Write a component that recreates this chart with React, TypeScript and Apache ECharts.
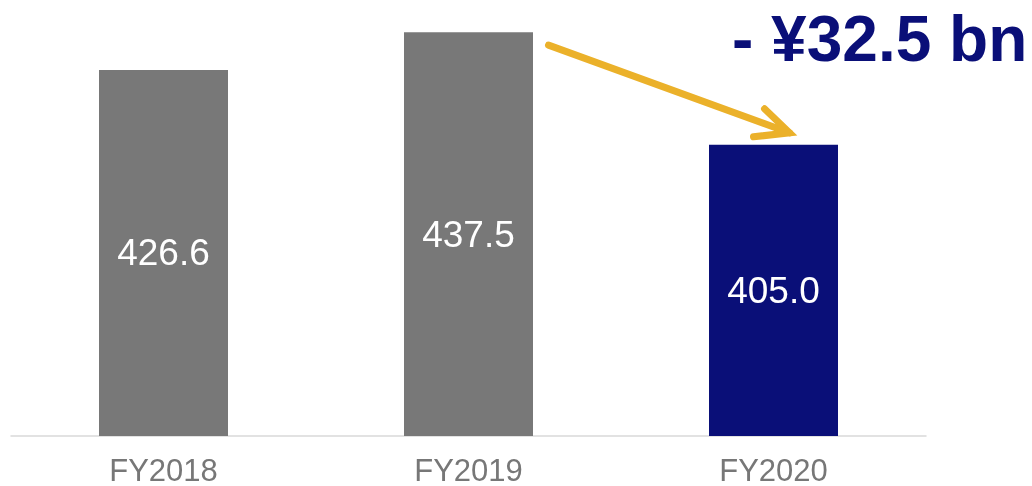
import React, { useEffect, useRef } from "react";
import * as echarts from "echarts";

const categories = ["FY2018", "FY2019", "FY2020"];
const values = [426.6, 437.5, 405.0];
const barColors = ["#787878", "#787878", "#0A0F78"];
const changeLabel = "- ¥32.5 bn";

const FONT = "'Liberation Sans', Arial, sans-serif";

export default function App() {
  const ref = useRef<HTMLDivElement>(null);
  useEffect(() => {
    if (!ref.current) return;
    const chart = echarts.init(ref.current, undefined, { renderer: "svg" });
    chart.setOption({
      animation: false,
      grid: { left: 11, right: 106, top: 20, bottom: 50 },
      xAxis: {
        type: "category",
        data: categories,
        axisLine: { show: true, lineStyle: { color: "#d9d9d9", width: 1.5 } },
        axisTick: { show: false },
        axisLabel: {
          color: "#777777",
          fontSize: 31,
          lineHeight: 30,
          fontFamily: FONT,
          margin: 19,
        },
      },
      yAxis: {
        type: "value",
        min: 321,
        max: 441,
        show: false,
        splitLine: { show: false },
      },
      series: [
        {
          type: "bar",
          barWidth: 129,
          data: values.map((v, i) => ({ value: v, itemStyle: { color: barColors[i] } })),
          label: {
            show: true,
            position: "inside",
            color: "#ffffff",
            fontSize: 37,
            fontFamily: FONT,
            formatter: (p: any) => Number(p.value).toFixed(1),
          },
        },
      ],
    });

    // Arrow from FY2019 bar top towards FY2020 bar top
    const p19 = chart.convertToPixel({ gridIndex: 0 }, [1, values[1]]) as number[];
    const p20 = chart.convertToPixel({ gridIndex: 0 }, [2, values[2]]) as number[];
    const start = [p19[0] + 80, p19[1] + 13];
    const tip = [p20[0] + 16, p20[1] - 12];
    const gold = "#EBB12A";
    chart.setOption({
      graphic: [
        {
          type: "polyline",
          shape: { points: [start, tip] },
          style: { stroke: gold, lineWidth: 7, lineCap: "round", fill: null },
        },
        {
          type: "polyline",
          shape: {
            points: [
              [tip[0] - 25, tip[1] - 24],
              tip,
              [tip[0] - 36, tip[1] + 4],
            ],
          },
          style: { stroke: gold, lineWidth: 7, lineCap: "round", lineJoin: "miter", fill: null },
        },
        {
          type: "text",
          x: 732,
          y: 39,
          style: {
            text: changeLabel,
            fill: "#0A0F78",
            font: `bold 64px ${FONT}`,
            textAlign: "left",
            textVerticalAlign: "middle",
          },
        },
      ],
    });
    return () => chart.dispose();
  }, []);
  return (
    <div
      ref={ref}
      style={{ position: "fixed", left: 0, top: 0, width: 1032, height: 486 }}
    />
  );
}
